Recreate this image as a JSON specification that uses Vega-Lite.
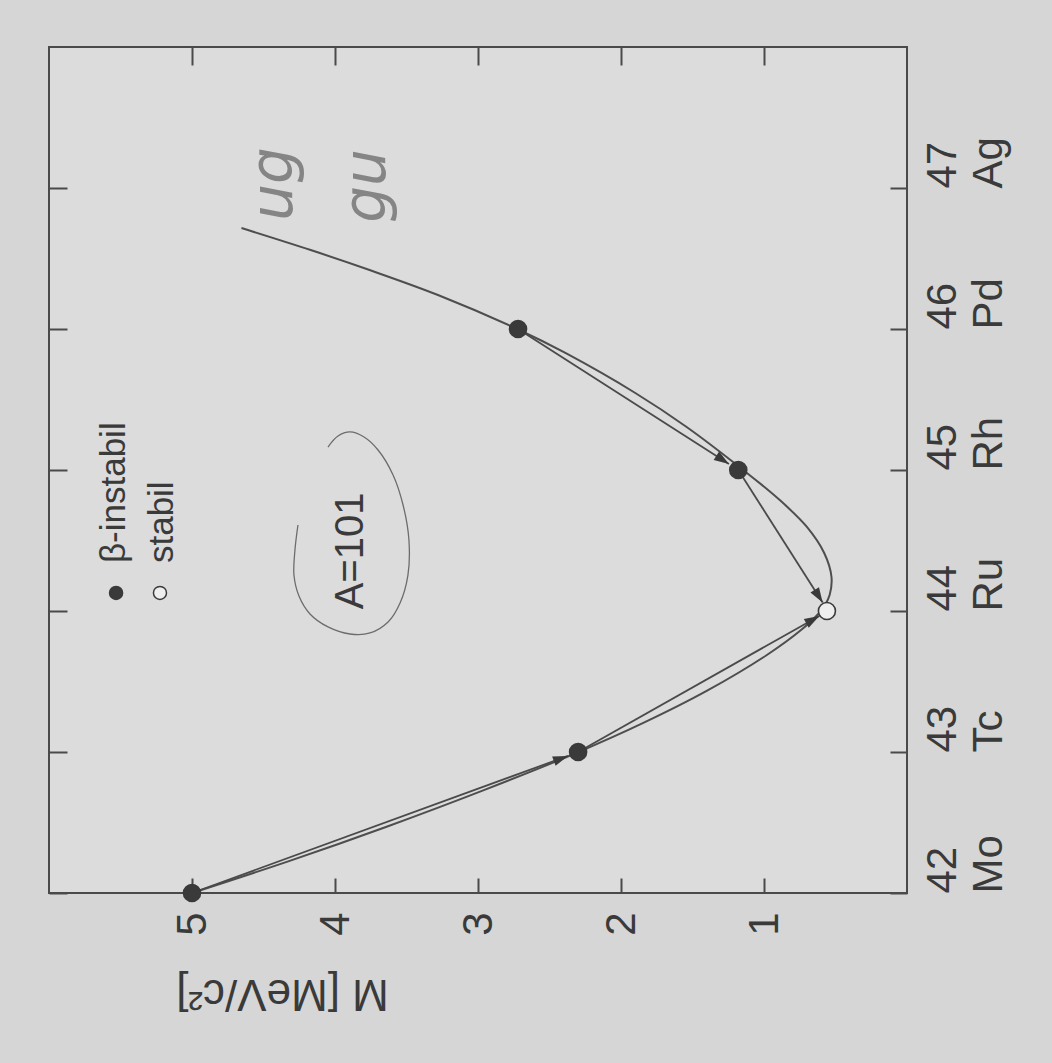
{
  "$schema": "https://vega.github.io/schema/vega-lite/v6.json",
  "width": 858,
  "height": 846,
  "autosize": {"type": "none"},
  "padding": {"left": 49, "top": 47, "right": 145, "bottom": 170},
  "background": "#d6d6d6",
  "config": {
    "view": {"fill": "#dcdcdc", "stroke": "#4a4a4a", "strokeWidth": 2},
    "font": "Liberation Sans",
    "axis": {
      "domain": false,
      "grid": false,
      "tickColor": "#4a4a4a",
      "tickWidth": 2,
      "labelColor": "#3a3a3a",
      "titleColor": "#3a3a3a",
      "labelFont": "Liberation Sans",
      "titleFont": "Liberation Sans",
      "labelFlush": false,
      "labelOverlap": false
    }
  },
  "datasets": {
    "curve": [
      {"Z": 42.0, "M": 5.0}, {"Z": 42.226, "M": 4.322}, {"Z": 42.47, "M": 3.639},
      {"Z": 42.726, "M": 2.968}, {"Z": 43.0, "M": 2.297}, {"Z": 43.206, "M": 1.844},
      {"Z": 43.433, "M": 1.401}, {"Z": 43.688, "M": 0.98}, {"Z": 43.865, "M": 0.741},
      {"Z": 43.979, "M": 0.621}, {"Z": 44.043, "M": 0.573}, {"Z": 44.113, "M": 0.541},
      {"Z": 44.241, "M": 0.528}, {"Z": 44.411, "M": 0.579}, {"Z": 44.596, "M": 0.7},
      {"Z": 44.787, "M": 0.89}, {"Z": 45.007, "M": 1.154}, {"Z": 45.305, "M": 1.541},
      {"Z": 45.546, "M": 1.9}, {"Z": 45.83, "M": 2.389}, {"Z": 46.0, "M": 2.726},
      {"Z": 46.241, "M": 3.28}, {"Z": 46.418, "M": 3.758}, {"Z": 46.56, "M": 4.17},
      {"Z": 46.716, "M": 4.654}
    ],
    "nuclides": [
      {"Z": 42, "element": "Mo", "M": 5.0, "status": "β-instabil"},
      {"Z": 43, "element": "Tc", "M": 2.3, "status": "β-instabil"},
      {"Z": 44, "element": "Ru", "M": 0.56, "status": "stabil"},
      {"Z": 45, "element": "Rh", "M": 1.18, "status": "β-instabil"},
      {"Z": 46, "element": "Pd", "M": 2.72, "status": "β-instabil"}
    ],
    "arrows": [
      {"from": "Mo", "to": "Tc", "M": 5.0, "Z": 42, "M2": 2.371, "Z2": 42.972},
      {"from": "Tc", "to": "Ru", "M": 2.3, "Z": 43, "M2": 0.613, "Z2": 43.965},
      {"from": "Pd", "to": "Rh", "M": 2.72, "Z": 46, "M2": 1.245, "Z2": 45.043},
      {"from": "Rh", "to": "Ru", "M": 1.18, "Z": 45, "M2": 0.59, "Z2": 44.06}
    ],
    "ellipse": [
      {"i": 1, "M": 4.049, "Z": 45.163}, {"i": 2, "M": 3.979, "Z": 45.241},
      {"i": 3, "M": 3.895, "Z": 45.27}, {"i": 4, "M": 3.797, "Z": 45.234},
      {"i": 5, "M": 3.699, "Z": 45.142}, {"i": 6, "M": 3.594, "Z": 44.965},
      {"i": 7, "M": 3.524, "Z": 44.752}, {"i": 8, "M": 3.483, "Z": 44.504},
      {"i": 9, "M": 3.49, "Z": 44.255}, {"i": 10, "M": 3.545, "Z": 44.057},
      {"i": 11, "M": 3.629, "Z": 43.922}, {"i": 12, "M": 3.755, "Z": 43.844},
      {"i": 13, "M": 3.895, "Z": 43.837}, {"i": 14, "M": 4.049, "Z": 43.887},
      {"i": 15, "M": 4.175, "Z": 43.979}, {"i": 16, "M": 4.252, "Z": 44.106},
      {"i": 17, "M": 4.287, "Z": 44.255}, {"i": 18, "M": 4.28, "Z": 44.433},
      {"i": 19, "M": 4.259, "Z": 44.61}
    ],
    "legend": [
      {"status": "β-instabil", "M": 5.531, "Z": 44.128, "text": "β-instabil", "TM": 5.545, "TZ": 44.34},
      {"status": "stabil", "M": 5.224, "Z": 44.128, "text": "stabil", "TM": 5.21, "TZ": 44.34}
    ],
    "label": [{"M": 3.888, "Z": 44.426, "text": "A=101"}],
    "handwriting": [
      {"M": 4.42, "Z": 47.028, "text": "ug"},
      {"M": 3.769, "Z": 47.014, "text": "gu"}
    ]
  },
  "encoding": {
    "x": {"field": "M", "type": "quantitative", "scale": {"domain": [0, 6], "reverse": true, "nice": false, "zero": false}, "axis": null},
    "y": {"field": "Z", "type": "quantitative", "scale": {"domain": [42, 48], "nice": false, "zero": false}, "axis": null}
  },
  "layer": [
    {
      "data": {"name": "curve"},
      "mark": {"type": "line", "interpolate": "catmull-rom", "stroke": "#4e4e4e", "strokeWidth": 2},
      "encoding": {
        "x": {"field": "M", "type": "quantitative", "scale": {"domain": [0, 6], "reverse": true, "nice": false, "zero": false},
          "axis": {"orient": "top", "values": [1, 2, 3, 4, 5], "labels": false, "tickSize": -18, "title": null}},
        "y": {"field": "Z", "type": "quantitative", "scale": {"domain": [42, 48], "nice": false, "zero": false},
          "axis": {"orient": "left", "values": [42, 43, 44, 45, 46, 47], "labels": false, "tickSize": -18, "title": null}},
        "order": {"field": "Z", "type": "quantitative"}
      }
    },
    {
      "data": {"name": "ellipse"},
      "mark": {"type": "line", "interpolate": "catmull-rom", "stroke": "#6c6c6c", "strokeWidth": 1.3},
      "encoding": {"order": {"field": "i", "type": "quantitative"}}
    },
    {
      "data": {"name": "arrows"},
      "mark": {"type": "rule", "stroke": "#4a4a4a", "strokeWidth": 1.8},
      "encoding": {"x2": {"field": "M2"}, "y2": {"field": "Z2"}}
    },
    {
      "data": {"name": "arrows"},
      "transform": [{"filter": "datum.from === 'Mo'"}],
      "mark": {"type": "point", "shape": "M0,0L-0.67,2L0.67,2Z", "size": 225, "filled": true, "color": "#3a3a3a", "opacity": 1, "angle": 69.9},
      "encoding": {"x": {"field": "M2", "type": "quantitative", "scale": {"domain": [0, 6], "reverse": true, "nice": false, "zero": false}, "axis": null},
        "y": {"field": "Z2", "type": "quantitative", "scale": {"domain": [42, 48], "nice": false, "zero": false}, "axis": null}}
    },
    {
      "data": {"name": "arrows"},
      "transform": [{"filter": "datum.from === 'Tc'"}],
      "mark": {"type": "point", "shape": "M0,0L-0.67,2L0.67,2Z", "size": 225, "filled": true, "color": "#3a3a3a", "opacity": 1, "angle": 60.6},
      "encoding": {"x": {"field": "M2", "type": "quantitative", "scale": {"domain": [0, 6], "reverse": true, "nice": false, "zero": false}, "axis": null},
        "y": {"field": "Z2", "type": "quantitative", "scale": {"domain": [42, 48], "nice": false, "zero": false}, "axis": null}}
    },
    {
      "data": {"name": "arrows"},
      "transform": [{"filter": "datum.from === 'Pd'"}],
      "mark": {"type": "point", "shape": "M0,0L-0.67,2L0.67,2Z", "size": 225, "filled": true, "color": "#3a3a3a", "opacity": 1, "angle": 123},
      "encoding": {"x": {"field": "M2", "type": "quantitative", "scale": {"domain": [0, 6], "reverse": true, "nice": false, "zero": false}, "axis": null},
        "y": {"field": "Z2", "type": "quantitative", "scale": {"domain": [42, 48], "nice": false, "zero": false}, "axis": null}}
    },
    {
      "data": {"name": "arrows"},
      "transform": [{"filter": "datum.from === 'Rh'"}],
      "mark": {"type": "point", "shape": "M0,0L-0.67,2L0.67,2Z", "size": 225, "filled": true, "color": "#3a3a3a", "opacity": 1, "angle": 148.2},
      "encoding": {"x": {"field": "M2", "type": "quantitative", "scale": {"domain": [0, 6], "reverse": true, "nice": false, "zero": false}, "axis": null},
        "y": {"field": "Z2", "type": "quantitative", "scale": {"domain": [42, 48], "nice": false, "zero": false}, "axis": null}}
    },
    {
      "data": {"name": "nuclides"},
      "mark": {"type": "point", "shape": "circle", "size": 290, "opacity": 1, "stroke": "#3a3a3a", "strokeWidth": 1.6},
      "encoding": {
        "x": {"field": "M", "type": "quantitative", "scale": {"domain": [0, 6], "reverse": true, "nice": false, "zero": false},
          "axis": {"orient": "bottom", "values": [1, 2, 3, 4, 5], "format": "d", "title": "M [MeV/c²]",
            "labelAngle": 270, "labelAlign": "right", "labelBaseline": "middle", "labelFontSize": 42,
            "tickSize": -15, "labelPadding": 34,
            "titleFontSize": 44, "titleFontWeight": "normal", "titleAngle": 180, "titleX": 233, "titleY": 99,
            "titleAlign": "center", "titleBaseline": "middle"}},
        "y": {"field": "Z", "type": "quantitative", "scale": {"domain": [42, 48], "nice": false, "zero": false},
          "axis": {"orient": "right", "values": [42, 43, 44, 45, 46, 47], "title": null,
            "labelExpr": "[datum.label, datum.value == 42 ? 'Mo' : datum.value == 43 ? 'Tc' : datum.value == 44 ? 'Ru' : datum.value == 45 ? 'Rh' : datum.value == 46 ? 'Pd' : 'Ag']",
            "labelAngle": 270, "labelAlign": "left", "labelBaseline": "top", "labelFontSize": 42, "labelLineHeight": 46,
            "tickSize": -17, "labelPadding": 32}},
        "fill": {"field": "status", "type": "nominal", "scale": {"domain": ["β-instabil", "stabil"], "range": ["#3a3a3a", "#eeeeee"]}, "legend": null}
      }
    },
    {
      "data": {"name": "legend"},
      "mark": {"type": "point", "shape": "circle", "size": 170, "opacity": 1, "stroke": "#3a3a3a", "strokeWidth": 1.5},
      "encoding": {
        "fill": {"field": "status", "type": "nominal", "scale": {"domain": ["β-instabil", "stabil"], "range": ["#3a3a3a", "#eeeeee"]}, "legend": null}
      }
    },
    {
      "data": {"name": "legend"},
      "mark": {"type": "text", "angle": 270, "align": "left", "baseline": "middle", "fontSize": 35, "color": "#3a3a3a"},
      "encoding": {
        "x": {"field": "TM", "type": "quantitative", "scale": {"domain": [0, 6], "reverse": true, "nice": false, "zero": false}, "axis": null},
        "y": {"field": "TZ", "type": "quantitative", "scale": {"domain": [42, 48], "nice": false, "zero": false}, "axis": null},
        "text": {"field": "text"}
      }
    },
    {
      "data": {"name": "label"},
      "mark": {"type": "text", "angle": 270, "align": "center", "baseline": "middle", "fontSize": 40, "color": "#3a3a3a"},
      "encoding": {"text": {"field": "text"}}
    },
    {
      "data": {"name": "handwriting"},
      "mark": {"type": "text", "angle": 270, "align": "center", "baseline": "middle", "fontSize": 58, "fontStyle": "italic", "font": "DejaVu Sans", "fontWeight": 300, "color": "#858585"},
      "encoding": {"text": {"field": "text"}}
    }
  ],
  "resolve": {"axis": {"x": "independent", "y": "independent"}}
}
